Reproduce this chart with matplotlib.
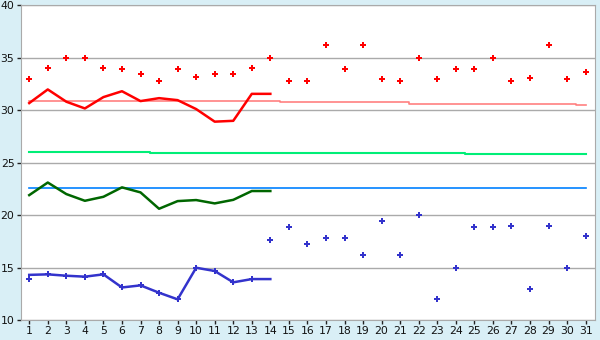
import numpy as np
import matplotlib
matplotlib.use("Agg")
import matplotlib.pyplot as plt

days = list(range(1, 32))
line_days = list(range(1, 15))

# daily max (markers)
max_marks = [33.0, 34.0, 35.0, 35.0, 34.0, 33.9, 33.4, 32.8, 33.9, 33.2,
             33.4, 33.4, 34.0, 35.0, 32.8, 32.8, 36.2, 33.9, 36.2, 33.0,
             32.8, 35.0, 33.0, 33.9, 33.9, 35.0, 32.8, 33.1, 36.2, 33.0, 33.6]
# daily min (markers)
min_marks = [13.9, 14.35, 14.2, 14.1, 14.35, 13.1, 13.3, 12.6, 12.0, 15.0,
             14.7, 13.6, 13.9, 17.6, 18.9, 17.2, 17.8, 17.8, 16.2, 19.4,
             16.2, 20.0, 12.0, 15.0, 18.9, 18.9, 19.0, 13.0, 19.0, 15.0, 18.0]

# lines for days 1-14
max_line = [30.67, 31.97, 30.8, 30.16, 31.24, 31.8, 30.86, 31.14, 30.95, 30.1,
            28.9, 28.98, 31.55, 31.55]
mean_line = [21.9, 23.1, 22.0, 21.36, 21.74, 22.64, 22.16, 20.6, 21.33, 21.43,
             21.11, 21.45, 22.29, 22.29]
min_line = [14.3, 14.35, 14.22, 14.13, 14.35, 13.1, 13.3, 12.6, 11.97, 14.98,
            14.67, 13.59, 13.9, 13.9]

# normals (step lines)
normal_max = [30.86] * 14 + [30.73] * 7 + [30.63] * 5 + [30.54] * 4 + [30.45]
normal_mean = [25.97] * 7 + [25.87] * 17 + [25.78] * 7
normal_min = [22.54] * 31

fig = plt.figure(figsize=(6, 3.4), dpi=100, facecolor="#d9eff6")
ax = fig.add_axes([0.0345, 0.0588, 0.957, 0.926])
ax.set_facecolor("white")

ax.grid(axis="y", color="#aaaaaa", lw=1)
ax.set_axisbelow(True)

ax.step(days, normal_max, where="mid", color="#ff8080", lw=1.2)
ax.step(days, normal_mean, where="mid", color="#00ee77", lw=1.5)
ax.step(days, normal_min, where="mid", color="#0080ff", lw=1.2)

ax.plot(line_days, max_line, color="#ff0000", lw=1.8)
ax.plot(line_days, mean_line, color="#006600", lw=1.8)
ax.plot(line_days, min_line, color="#3333cc", lw=1.8)

ax.plot(days, max_marks, "P", color="#ff0000", ms=5, mew=0, ls="none")
ax.plot(days, min_marks, "P", color="#3333cc", ms=5, mew=0, ls="none")

ax.set_xlim(0.54, 31.5)
ax.set_ylim(10, 40)
ax.set_xticks(days)
ax.set_yticks(range(10, 41, 5))
for s in ax.spines.values():
    s.set_color("#aaaaaa")
ax.tick_params(axis="both", length=3, width=1, color="#222222",
               labelsize=7.8, pad=1.5, labelcolor="#111111")

fig.savefig("out.png", dpi=100, facecolor=fig.get_facecolor())
